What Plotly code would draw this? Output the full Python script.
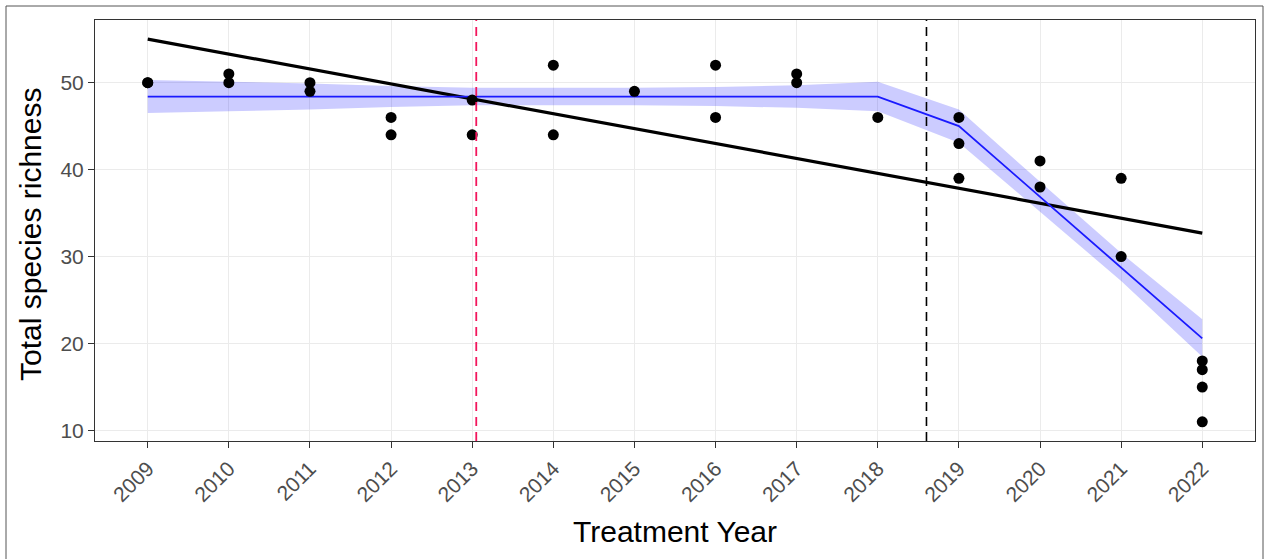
import plotly.graph_objects as go

# ---------------- data ----------------
pt_year = [2009, 2009, 2010, 2010, 2011, 2011, 2012, 2012, 2013, 2013,
           2014, 2014, 2015, 2016, 2016, 2017, 2017, 2018,
           2019, 2019, 2019, 2020, 2020, 2021, 2021,
           2022, 2022, 2022, 2022]
pt_richness = [50, 50, 51, 50, 50, 49, 46, 44, 48, 44,
               52, 44, 49, 52, 46, 51, 50, 46,
               46, 43, 39, 41, 38, 39, 30,
               18, 17, 15, 11]

# linear fit (black)
lin_year = [2009, 2022]
lin_fit = [55.0, 32.7]

# segmented fit (blue) with confidence band
seg_year = [2009, 2010, 2011, 2012, 2013, 2014, 2015, 2016, 2017, 2018,
            2019, 2020, 2021, 2022]
seg_fit = [48.4, 48.4, 48.4, 48.4, 48.4, 48.4, 48.4, 48.4, 48.4, 48.4,
           45.0, 36.9, 28.8, 20.6]
seg_upper = [50.3, 50.1, 49.9, 49.6, 49.4, 49.4, 49.4, 49.5, 49.7, 50.1,
             46.9, 38.6, 30.4, 22.8]
seg_lower = [46.5, 46.7, 46.9, 47.2, 47.4, 47.4, 47.4, 47.3, 47.1, 46.7,
             43.1, 35.2, 27.2, 18.5]

treat_start = 2013.05   # red dashed line
breakpoint = 2018.6     # black dashed line

x_ticks = list(range(2009, 2023))
y_ticks = [10, 20, 30, 40, 50]

FONT = "Liberation Sans, Arial, sans-serif"

fig = go.Figure()

# confidence band
fig.add_trace(go.Scatter(
    x=seg_year + seg_year[::-1],
    y=seg_upper + seg_lower[::-1],
    fill="toself", fillcolor="rgba(0,0,255,0.2)",
    line=dict(width=0), mode="lines", hoverinfo="skip", showlegend=False))

# linear fit
fig.add_trace(go.Scatter(x=lin_year, y=lin_fit, mode="lines",
                         line=dict(color="black", width=3.2), showlegend=False))

# segmented fit
fig.add_trace(go.Scatter(x=seg_year, y=seg_fit, mode="lines",
                         line=dict(color="#1a1aff", width=1.8), showlegend=False))

# points
fig.add_trace(go.Scatter(x=pt_year, y=pt_richness, mode="markers",
                         marker=dict(color="black", size=11), showlegend=False))

# dashed vertical lines
fig.add_shape(type="line", xref="x", yref="paper", x0=treat_start, x1=treat_start,
              y0=0, y1=1, line=dict(color="#F2155C", width=1.8, dash="9px,6px"))
fig.add_shape(type="line", xref="x", yref="paper", x0=breakpoint, x1=breakpoint,
              y0=0, y1=1, line=dict(color="black", width=1.6, dash="9px,6px"))

# outer frame
fig.add_shape(type="rect", xref="paper", yref="paper",
              x0=(6 - 95) / 1160, x1=(1263 - 95) / 1160,
              y0=-0.5, y1=(441 - 6) / 421,
              line=dict(color="#555555", width=1), fillcolor="rgba(0,0,0,0)",
              layer="below")

# axis titles
fig.add_annotation(text="Treatment Year", xref="paper", yref="paper",
                   x=0.5, y=(441 - 531) / 421, xanchor="center", yanchor="middle",
                   showarrow=False, font=dict(family=FONT, size=30, color="black"))
fig.add_annotation(text="Total species richness", xref="paper", yref="paper",
                   x=(31 - 95) / 1160, y=(441 - 235) / 421, xanchor="center",
                   yanchor="middle", textangle=-90, showarrow=False,
                   font=dict(family=FONT, size=30, color="black"))

fig.update_layout(
    width=1266, height=559,
    margin=dict(l=95, r=11, t=20, b=118),
    paper_bgcolor="white", plot_bgcolor="white",
    font=dict(family=FONT),
    showlegend=False,
)

fig.update_xaxes(
    range=[2008.35, 2022.65], tickvals=x_ticks, ticktext=[str(v) for v in x_ticks],
    tickangle=-45, tickfont=dict(family=FONT, size=21, color="#4D4D4D"),
    ticks="outside", ticklen=6, tickcolor="#333333", tickwidth=1,
    showgrid=True, gridcolor="#EBEBEB", gridwidth=1,
    showline=True, linecolor="#333333", linewidth=1, mirror=True,
    zeroline=False,
)
fig.update_yaxes(
    range=[8.8, 57.2], tickvals=y_ticks,
    tickfont=dict(family=FONT, size=21, color="#4D4D4D"),
    ticks="outside", ticklen=6, tickcolor="#333333", tickwidth=1,
    showgrid=True, gridcolor="#EBEBEB", gridwidth=1,
    showline=True, linecolor="#333333", linewidth=1, mirror=True,
    zeroline=False,
)

fig.write_html("out.html")
